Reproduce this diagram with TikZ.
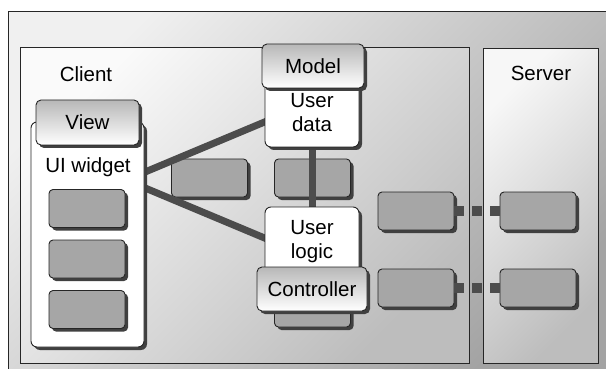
\documentclass[tikz,border=0pt]{standalone}
\usepackage{fontspec}
\setmainfont{Liberation Sans}
\usetikzlibrary{shadows}

\pgfdeclarelayer{back}
\pgfsetlayers{back,main}

\tikzset{
    boxshadow/.style={drop shadow={shadow xshift=3pt,shadow yshift=-3pt,fill=black!75,opacity=1}},
    panel/.style={draw=black!85,line width=1pt},
    widget/.style={draw=black!85,line width=0.9pt,fill=black!35,rounded corners=4pt,
        minimum width=76pt,minimum height=38pt,inner sep=0pt,boxshadow},
    card/.style={draw=black!85,line width=0.9pt,fill=white,rounded corners=6pt,
        inner sep=0pt,align=center,boxshadow},
    tabbox/.style={draw=black!85,line width=0.9pt,rounded corners=5pt,
        top color=black!28,bottom color=white,inner sep=0pt,boxshadow},
    link/.style={draw=black!70,line width=7pt},
    pipe/.style={draw=black!70,line width=10pt,dash pattern=on 10pt off 8pt},
}

\begin{document}
\begin{tikzpicture}[x=1pt,y=-1pt,font=\fontsize{20.5}{24}\selectfont]
    \useasboundingbox (0,0) rectangle (606,369);

    \begin{pgfonlayer}{back}
    \draw[panel,top color=black!6,bottom color=black!36,shading angle=45] (8,12) rectangle (612,376);
    \draw[panel,top color=black!2,bottom color=black!26,shading angle=45] (20,48) rectangle (469,363);
    \draw[panel,top color=black!3,bottom color=black!26,shading angle=45] (483,49) rectangle (598,363);

    \node[widget] (m1) at (209.5,178) {};
    \node[widget] (m2) at (312.5,178) {};
    \node[widget] (m3) at (312.5,308) {};
    \end{pgfonlayer}

    \node (client) at (86,74) {Client};
    \node (server) at (541,73) {Server};

    % view
    \node[card,minimum width=113pt,minimum height=225pt] (view) at (87.5,234.5) {};
    \node[tabbox,minimum width=103pt,minimum height=45pt] (viewtab) at (87.5,122.5) {View};
    \node (uiwidget) at (88,167) {UI widget};
    \node[widget] (w1) at (87,208.5) {};
    \node[widget] (w2) at (87,259) {};
    \node[widget] (w3) at (87,309.5) {};
    \coordinate (hub) at (126,180);

    % model and controller
    \node[card,minimum width=94pt,minimum height=68pt] (model) at (312,113) {User\\data};
    \node[tabbox,minimum width=102pt,minimum height=44pt] (modeltab) at (313,66) {Model};
    \node[card,minimum width=94pt,minimum height=69pt] (logic) at (312,241.5) {User\\logic};
    \node[tabbox,minimum width=110pt,minimum height=44pt] (ctrltab) at (312,289) {Controller};

    % client to server
    \node[widget] (r1) at (416,211) {};
    \node[widget] (r2) at (416,288) {};
    \node[widget] (s1) at (538,211) {};
    \node[widget] (s2) at (538,288) {};
    \draw[pipe] (r1.east) -- (s1.west);
    \draw[pipe] (r2.east) -- (s2.west);

    \begin{pgfonlayer}{back}
    \draw[link,shorten >=-10pt] (hub) -- ([yshift=-9pt]model.west);
    \draw[link,shorten >=-10pt] (hub) -- ([yshift=3.5pt]logic.west);
    \draw[link] (model.south) -- (logic.north);
    \end{pgfonlayer}

\end{tikzpicture}
\end{document}
